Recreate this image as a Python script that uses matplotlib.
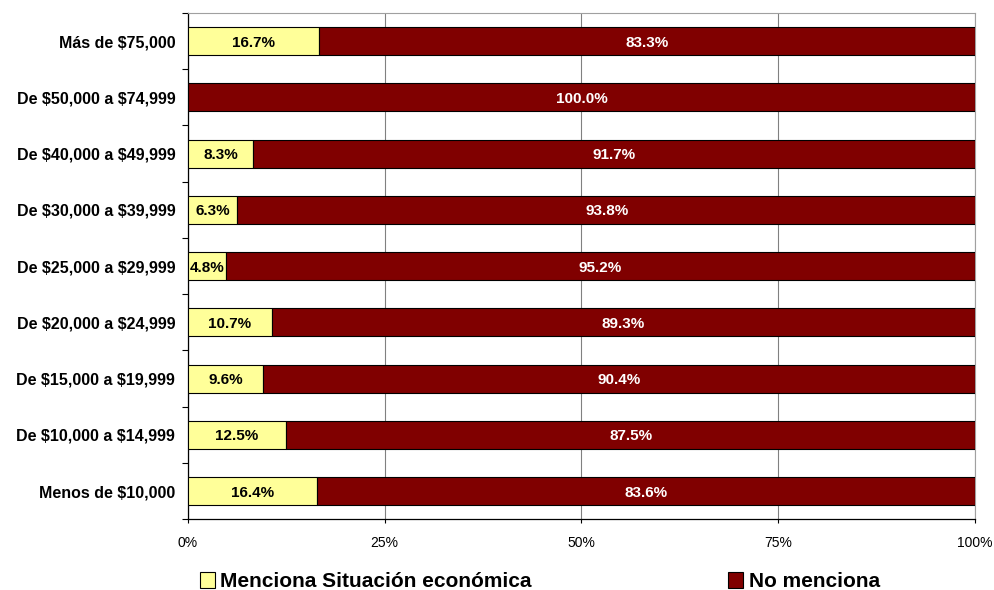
import numpy as np
import matplotlib.pyplot as plt
from matplotlib.ticker import FixedLocator

# Datos
categorias = ["Menos de $10,000", "De $10,000 a $14,999", "De $15,000 a $19,999",
              "De $20,000 a $24,999", "De $25,000 a $29,999", "De $30,000 a $39,999",
              "De $40,000 a $49,999", "De $50,000 a $74,999", "Más de $75,000"]
menciona = [16.4, 12.5, 9.6, 10.7, 4.8, 6.3, 8.3, 0.0, 16.7]
no_menciona = [83.6, 87.5, 90.4, 89.3, 95.2, 93.8, 91.7, 100.0, 83.3]
series = ["Menciona Situación económica", "No menciona"]

plt.rcParams['font.family'] = ['Liberation Sans', 'DejaVu Sans']
plt.rcParams['text.parse_math'] = False  # los "$" son texto normal

fig = plt.figure(figsize=(9.94, 5.90), dpi=100)
ax = fig.add_axes([0.189, 0.120, 0.792, 0.858])

y = np.arange(len(categorias))
b1 = ax.barh(y, menciona, height=0.5, color="#FFFF99", edgecolor="black", linewidth=0.8,
             label=series[0], zorder=3)
b2 = ax.barh(y, no_menciona, left=menciona, height=0.5, color="#800000", edgecolor="black",
             linewidth=0.8, label=series[1], zorder=3)

# Etiquetas dentro de las barras
for i in range(len(categorias)):
    if menciona[i] > 0:
        ax.text(menciona[i] / 2, y[i], f"{menciona[i]:.1f}%", ha="center", va="center_baseline",
                fontsize=11, fontweight="bold", color="black", zorder=4)
    ax.text(menciona[i] + no_menciona[i] / 2, y[i], f"{no_menciona[i]:.1f}%", ha="center",
            va="center_baseline", fontsize=11, fontweight="bold", color="white", zorder=4)

ax.set_xlim(0, 100)
ax.set_ylim(-0.5, len(categorias) - 0.5)
ax.set_xticks([0, 25, 50, 75, 100])
ax.set_xticklabels(["0%", "25%", "50%", "75%", "100%"], fontsize=10)
ax.set_yticks(y)
ax.set_yticklabels(categorias, fontsize=11.5, fontweight="bold")
ax.yaxis.set_minor_locator(FixedLocator(np.arange(-0.5, len(categorias), 1.0)))
ax.tick_params(axis="y", which="major", length=0, pad=9)
ax.tick_params(axis="y", which="minor", length=4, direction="out", width=0.8)
ax.tick_params(axis="x", length=3, direction="out", width=0.8, pad=9)

ax.grid(axis="x", color="#808080", linewidth=0.8, zorder=0)
ax.spines["top"].set_color("#a0a0a0")
ax.spines["right"].set_color("#a0a0a0")
for s in ["left", "bottom"]:
    ax.spines[s].set_color("black")
    ax.spines[s].set_linewidth(0.9)

fig.legend(handles=[b1, b2], labels=series, loc="lower left", bbox_to_anchor=(0.182, -0.034),
           ncol=2, frameon=False, prop={"size": 15, "weight": "bold"},
           handlelength=0.75, handleheight=0.75, handletextpad=0.25, columnspacing=9.4)

fig.savefig("out.png", dpi=100)
